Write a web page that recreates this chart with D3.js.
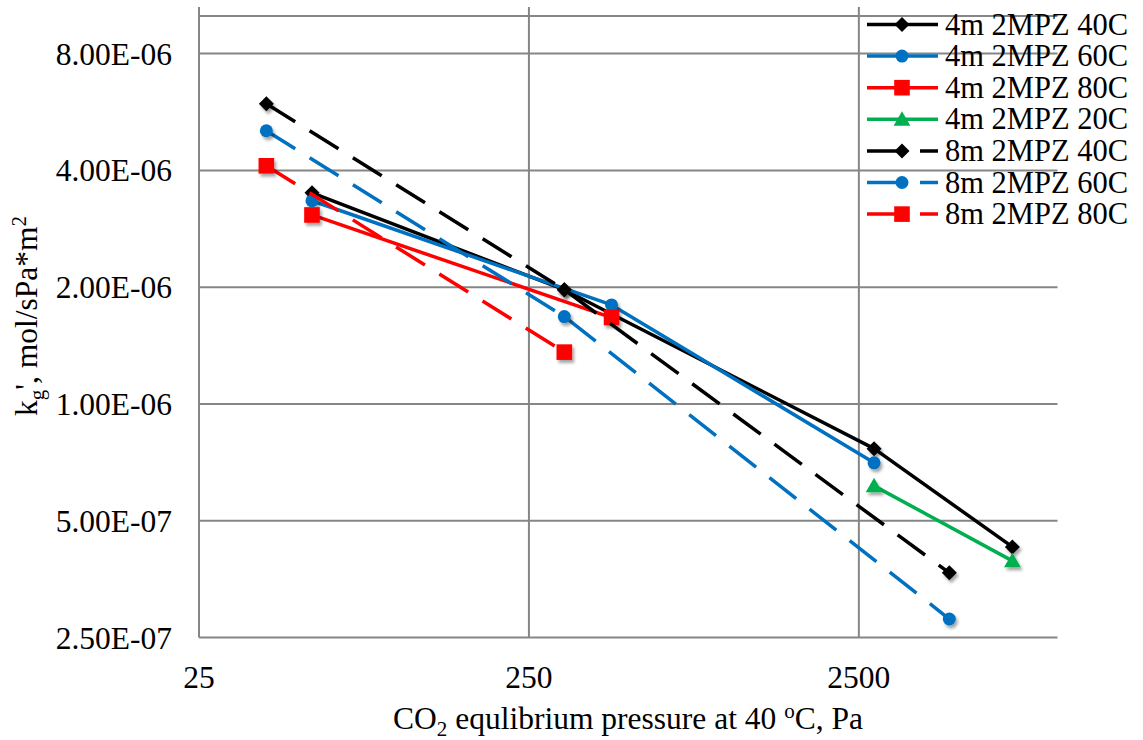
<!DOCTYPE html>
<html><head><meta charset="utf-8">
<script src="https://cdn.jsdelivr.net/npm/d3@7"></script>
<style>
html,body{margin:0;padding:0;background:#fff;}
</style></head>
<body><svg id="chart" width="1143" height="740" font-family="'Liberation Serif', 'Times New Roman', serif"></svg>
<script>
// ---------- data ----------
const xTicks = [25, 250, 2500];
const yTicks = [2.5e-7, 5e-7, 1e-6, 2e-6, 4e-6, 8e-6];
const seriesNames = ["4m 2MPZ 40C","4m 2MPZ 60C","4m 2MPZ 80C","4m 2MPZ 20C","8m 2MPZ 40C","8m 2MPZ 60C","8m 2MPZ 80C"];
const x4m40 = [55, 320, 2780, 7300];
const y4m40 = [3.5e-6, 1.97e-6, 7.67e-7, 4.28e-7];
const x4m60 = [55, 445, 2780];
const y4m60 = [3.34e-6, 1.80e-6, 7.05e-7];
const x4m80 = [55, 445];
const y4m80 = [3.07e-6, 1.67e-6];
const x4m20 = [2780, 7300];
const y4m20 = [6.15e-7, 3.94e-7];
const x8m40 = [40, 320, 4700];
const y8m40 = [5.94e-6, 1.97e-6, 3.67e-7];
const x8m60 = [40, 320, 4700];
const y8m60 = [5.06e-6, 1.68e-6, 2.79e-7];
const x8m80 = [40, 320];
const y8m80 = [4.11e-6, 1.36e-6];

// ---------- layout ----------
const svg = d3.select("#chart");
const FONT = "'Liberation Serif', 'Times New Roman', serif";
const FS = 31.5;
const L = 199, R = 1057.5, T = 16, B = 637.5;
const x = d3.scaleLog().domain([25, 10000]).range([L, R]);
const y = d3.scaleLog().domain([2.5e-7, 1e-5]).range([B, T]);

const series = [
  {name: seriesNames[0], xs: x4m40, ys: y4m40, color: "#000000", marker: "diamond", dash: null},
  {name: seriesNames[1], xs: x4m60, ys: y4m60, color: "#0070C0", marker: "circle", dash: null},
  {name: seriesNames[2], xs: x4m80, ys: y4m80, color: "#FF0000", marker: "square", dash: null},
  {name: seriesNames[3], xs: x4m20, ys: y4m20, color: "#00B050", marker: "triangle", dash: null},
  {name: seriesNames[4], xs: x8m40, ys: y8m40, color: "#000000", marker: "diamond", dash: "34 17"},
  {name: seriesNames[5], xs: x8m60, ys: y8m60, color: "#0070C0", marker: "circle", dash: "34 17"},
  {name: seriesNames[6], xs: x8m80, ys: y8m80, color: "#FF0000", marker: "square", dash: "34 17"},
];

const defs = svg.append("defs");
const f = defs.append("filter").attr("id","sh").attr("x","-50%").attr("y","-50%").attr("width","200%").attr("height","200%");
f.append("feDropShadow").attr("dx",2).attr("dy",3).attr("stdDeviation",1.6).attr("flood-color","#000").attr("flood-opacity",0.35);

// gridlines
const grid = svg.append("g").attr("stroke","#868686").attr("stroke-width",2);
grid.selectAll("line.h").data(yTicks.concat([1e-5])).enter().append("line")
  .attr("x1", L).attr("x2", R).attr("y1", d=>y(d)).attr("y2", d=>y(d));
grid.selectAll("line.v").data(xTicks).enter().append("line")
  .attr("x1", d=>x(d)).attr("x2", d=>x(d)).attr("y1", 7).attr("y2", B);

// tick labels
function fmt(v){
  const s = v.toExponential(2).toUpperCase();
  const m = s.match(/^(.*)E([+-])(\d+)$/);
  return m[1] + "E" + m[2] + (m[3].length < 2 ? "0" + m[3] : m[3]);
}
svg.append("g").selectAll("text").data(yTicks).enter().append("text")
  .attr("font-family", FONT)
  .attr("x", 172).attr("y", d=>y(d)).attr("dy","0.35em").attr("text-anchor","end")
  .attr("font-size", FS).text(fmt);
svg.append("g").selectAll("text").data(xTicks).enter().append("text")
  .attr("font-family", FONT)
  .attr("x", d=>x(d)).attr("y", 688).attr("text-anchor","middle")
  .attr("font-size", FS).text(d=>d);

// axis titles
const xt = svg.append("text").attr("font-family", FONT).attr("x", 628).attr("y", 729).attr("text-anchor","middle").attr("font-size", FS);
xt.append("tspan").text("CO");
xt.append("tspan").attr("font-size",21).attr("dy",7).text("2");
xt.append("tspan").attr("dy",-7).text(" equlibrium pressure at 40 ");
xt.append("tspan").attr("font-size",21).attr("dy",-11).text("o");
xt.append("tspan").attr("dy",11).text("C, Pa");

const yt = svg.append("text").attr("font-family", FONT).attr("transform","translate(37,316) rotate(-90)").attr("text-anchor","middle").attr("font-size", FS);
yt.append("tspan").text("k");
yt.append("tspan").attr("font-size",21).attr("dy",7).text("g");
yt.append("tspan").attr("dy",-7).text("', mol/sPa*m");
yt.append("tspan").attr("font-size",21).attr("dy",-11).text("2");

// marker drawing
function drawMarker(g, type, cx, cy, color){
  if (type === "diamond") {
    const r = 7.5;
    g.append("path").attr("d", `M${cx},${cy-r}L${cx+r},${cy}L${cx},${cy+r}L${cx-r},${cy}Z`).attr("fill", color);
  } else if (type === "circle") {
    g.append("circle").attr("cx", cx).attr("cy", cy).attr("r", 6.5).attr("fill", color);
  } else if (type === "square") {
    const h = 7.8;
    g.append("rect").attr("x", cx-h).attr("y", cy-h).attr("width", 2*h).attr("height", 2*h).attr("fill", color);
  } else if (type === "triangle") {
    const h = 8;
    g.append("path").attr("d", `M${cx},${cy-h}L${cx+h*1.05},${cy+h*0.8}L${cx-h*1.05},${cy+h*0.8}Z`).attr("fill", color);
  }
}

const line = d3.line().x(d=>x(d[0])).y(d=>y(d[1]));
series.forEach(s => {
  const pts = s.xs.map((v,i)=>[v, s.ys[i]]);
  const g = svg.append("g");
  g.append("path").attr("d", line(pts)).attr("fill","none").attr("stroke", s.color)
    .attr("stroke-width", 3.5).attr("stroke-linejoin","round")
    .attr("stroke-dasharray", s.dash);
  const mg = g.append("g").attr("filter","url(#sh)");
  pts.forEach(p => drawMarker(mg, s.marker, x(p[0]), y(p[1]), s.color));
});

// legend
const lg = svg.append("g");
series.forEach((s, i) => {
  const cy = 24.5 + i * 31.6;
  lg.append("line").attr("x1", 867).attr("x2", 938).attr("y1", cy).attr("y2", cy)
    .attr("stroke", s.color).attr("stroke-width", 3.5).attr("stroke-dasharray", s.dash ? "40 13" : null);
  drawMarker(lg, s.marker, 902, cy, s.color);
  lg.append("text").attr("font-family", FONT).attr("x", 945).attr("y", cy + 10).attr("font-size", 30.5).text(s.name);
});
</script></body></html>
